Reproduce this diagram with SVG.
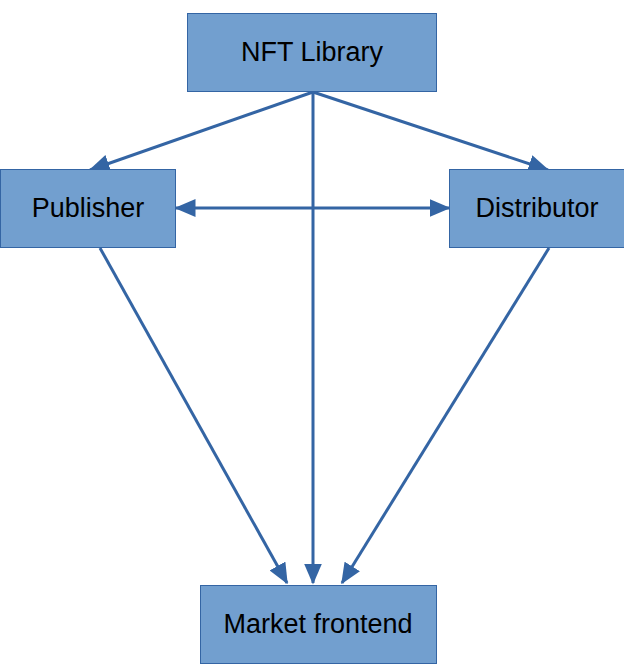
<svg xmlns="http://www.w3.org/2000/svg" width="624" height="672" viewBox="0 0 624 672">
<style>
.node rect{fill:#729fcf;stroke:#3465a4;stroke-width:1}
.node text{font-family:"Liberation Sans",Arial,sans-serif;font-size:27px;fill:#000;text-anchor:middle;dominant-baseline:central}
.edge{stroke:#3465a4;stroke-width:3;fill:none}
</style>
<defs>
<marker id="ah" markerWidth="7" markerHeight="6" refX="6.5" refY="3" orient="auto" markerUnits="strokeWidth">
<path d="M0,0 L7,3 L0,6 Z" fill="#3465a4"/>
</marker>
<marker id="as" markerWidth="7" markerHeight="6" refX="0.5" refY="3" orient="auto" markerUnits="strokeWidth">
<path d="M7,0 L0,3 L7,6 Z" fill="#3465a4"/>
</marker>
</defs>
<rect width="624" height="672" fill="#fff"/>
<g id="connectors">
<line class="edge" x1="313" y1="92" x2="90" y2="170" marker-end="url(#ah)"/>
<line class="edge" x1="313" y1="92" x2="548" y2="170" marker-end="url(#ah)"/>
<line class="edge" x1="313" y1="92" x2="313" y2="583" marker-end="url(#ah)"/>
<line class="edge" x1="176" y1="208" x2="449" y2="208" marker-start="url(#as)" marker-end="url(#ah)"/>
<line class="edge" x1="100" y1="248" x2="287" y2="583" marker-end="url(#ah)"/>
<line class="edge" x1="549" y1="248" x2="342" y2="583" marker-end="url(#ah)"/>
</g>
<g id="nft-library" class="node">
<rect x="187.5" y="13.5" width="249" height="78"/>
<text x="312" y="52">NFT Library</text>
</g>
<g id="publisher" class="node">
<rect x="0.5" y="169.5" width="175" height="78"/>
<text x="88" y="208">Publisher</text>
</g>
<g id="distributor" class="node">
<rect x="449.5" y="169.5" width="175" height="78"/>
<text x="537" y="208">Distributor</text>
</g>
<g id="market-frontend" class="node">
<rect x="200.5" y="585.5" width="236" height="78"/>
<text x="318" y="624">Market frontend</text>
</g>
</svg>
